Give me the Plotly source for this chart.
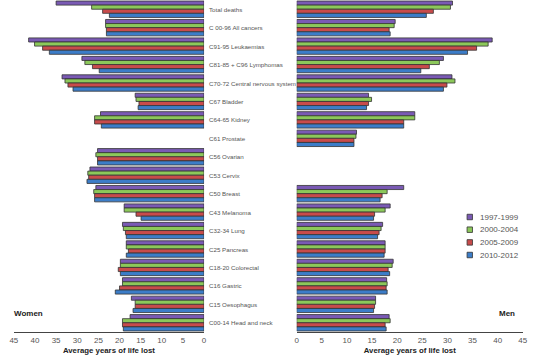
import plotly.graph_objects as go

categories = ["Total deaths", "C 00-96 All cancers", "C91-95 Leukaemias",
              "C81-85 + C96 Lymphomas", "C70-72 Central nervous system",
              "C67 Bladder", "C64-65 Kidney", "C61 Prostate", "C56 Ovarian",
              "C53 Cervix", "C50 Breast", "C43 Melanoma", "C32-34 Lung",
              "C25 Pancreas", "C18-20 Colorectal", "C16 Gastric",
              "C15 Oesophagus", "C00-14 Head and neck"]
periods = ["1997-1999", "2000-2004", "2005-2009", "2010-2012"]
colors = ["#7A5AB4", "#8CC85A", "#C84B4B", "#3C7DC8"]

women_1997 = [35.0, 23.3, 41.5, 28.9, 33.6, 16.3, 24.5, None, 25.2, 27.0, 25.6, 18.9, 19.3, 18.4, 19.8, 19.3, 17.2, 17.5]
women_2000 = [26.6, 23.3, 40.1, 28.2, 32.9, 16.1, 25.9, None, 25.6, 27.5, 26.1, 18.9, 19.1, 18.4, 19.8, 19.3, 16.3, 19.3]
women_2005 = [24.0, 23.1, 38.2, 26.4, 32.2, 15.4, 25.9, None, 25.2, 27.3, 25.9, 16.1, 18.6, 17.9, 20.3, 20.0, 16.3, 19.3]
women_2010 = [22.4, 23.1, 36.6, 24.8, 31.0, 15.6, 24.3, None, 25.2, 27.7, 25.9, 14.9, 18.4, 18.4, 19.8, 21.0, 16.8, 19.1]

men_1997 = [31.0, 19.6, 38.9, 29.2, 30.9, 14.3, 23.5, 11.9, None, None, 21.3, 18.6, 17.1, 17.6, 19.2, 17.9, 15.7, 18.4]
men_2000 = [30.6, 19.4, 38.1, 28.4, 31.5, 14.9, 23.5, 11.8, None, None, 18.0, 17.6, 16.8, 17.6, 19.0, 18.0, 15.7, 18.6]
men_2005 = [27.2, 18.4, 35.8, 26.4, 29.9, 14.3, 21.3, 11.4, None, None, 17.0, 15.5, 16.4, 17.6, 18.2, 17.8, 15.5, 17.6]
men_2010 = [25.8, 18.6, 34.0, 24.7, 29.2, 13.9, 21.3, 11.4, None, None, 16.6, 15.3, 16.1, 17.4, 18.5, 18.0, 15.3, 17.8]

women = [women_1997, women_2000, women_2005, women_2010]
men = [men_1997, men_2000, men_2005, men_2010]

tick_vals = [0, 5, 10, 15, 20, 25, 30, 35, 40, 45]
axis_title = "Average years of life lost"

W, H = 535, 364
B = 32
PH = H - B

def px_x(p):
    return p / W

def px_y(p):
    return 1 - p / PH

fig = go.Figure()
line_style = dict(color="#333333", width=0.8)
for i, p in enumerate(periods):
    fig.add_trace(go.Bar(y=categories, x=women[i], orientation="h", name=p,
                         marker=dict(color=colors[i], line=line_style),
                         xaxis="x", yaxis="y", showlegend=False))
for i, p in enumerate(periods):
    fig.add_trace(go.Bar(y=categories, x=men[i], orientation="h", name=p,
                         marker=dict(color=colors[i], line=line_style),
                         xaxis="x2", yaxis="y", showlegend=False))

tickfont = dict(family="Liberation Sans", size=8, color="#555555")
titlefont = dict(family="Liberation Sans", size=7.8, color="#222222", weight="bold")
common_x = dict(tickvals=tick_vals, showgrid=False, zeroline=False,
                showline=True, linecolor="#444444", linewidth=1, ticks="",
                tickfont=tickfont, fixedrange=True)

xa = dict(common_x)
xa.update(domain=[px_x(10), px_x(203.5)], range=[45, 0], anchor="y",
          title=dict(text=axis_title, font=titlefont, standoff=3))
xa2 = dict(common_x)
xa2.update(domain=[px_x(297.7), px_x(527.7)], range=[0, 45], anchor="y",
           title=dict(text=axis_title, font=titlefont, standoff=3))

annotations = []
for c in categories:
    annotations.append(dict(x=px_x(206.5), xref="paper", y=c, yref="y", text=c,
                            showarrow=False, xanchor="left", yanchor="middle",
                            font=dict(family="Liberation Sans", size=6.2, color="#555555")))
annotations.append(dict(x=px_x(8), xref="paper", y=px_y(313), yref="paper", text="Women",
                        showarrow=False, xanchor="left", yanchor="middle",
                        font=dict(family="Liberation Sans", size=8, color="#222222", weight="bold")))
annotations.append(dict(x=px_x(522), xref="paper", y=px_y(313), yref="paper", text="Men",
                        showarrow=False, xanchor="right", yanchor="middle",
                        font=dict(family="Liberation Sans", size=8, color="#222222", weight="bold")))

shapes = []
leg_y = [217, 229.7, 242.4, 255]
for i, p in enumerate(periods):
    yc = leg_y[i]
    shapes.append(dict(type="rect", xref="paper", yref="paper",
                       x0=px_x(471), x1=px_x(476.5), y0=px_y(yc + 2.75), y1=px_y(yc - 2.75),
                       fillcolor=colors[i], line=dict(color="#333333", width=0.8)))
    annotations.append(dict(x=px_x(482), xref="paper", y=px_y(yc), yref="paper", text=p,
                            showarrow=False, xanchor="left", yanchor="middle",
                            font=dict(family="Liberation Sans", size=8, color="#555555")))

fig.update_layout(
    width=W, height=H,
    margin=dict(l=0, r=0, t=0, b=B),
    paper_bgcolor="white", plot_bgcolor="white",
    barmode="group", bargap=0.11, bargroupgap=0,
    xaxis=xa, xaxis2=xa2,
    yaxis=dict(type="category", categoryorder="array", categoryarray=categories,
               range=[len(categories) - 0.5, -0.5], showticklabels=False,
               showgrid=False, zeroline=False, showline=False, fixedrange=True),
    annotations=annotations, shapes=shapes,
    showlegend=False,
)

fig.write_html("out.html", config={"displayModeBar": False},
               post_script="document.body.style.margin='0';")
